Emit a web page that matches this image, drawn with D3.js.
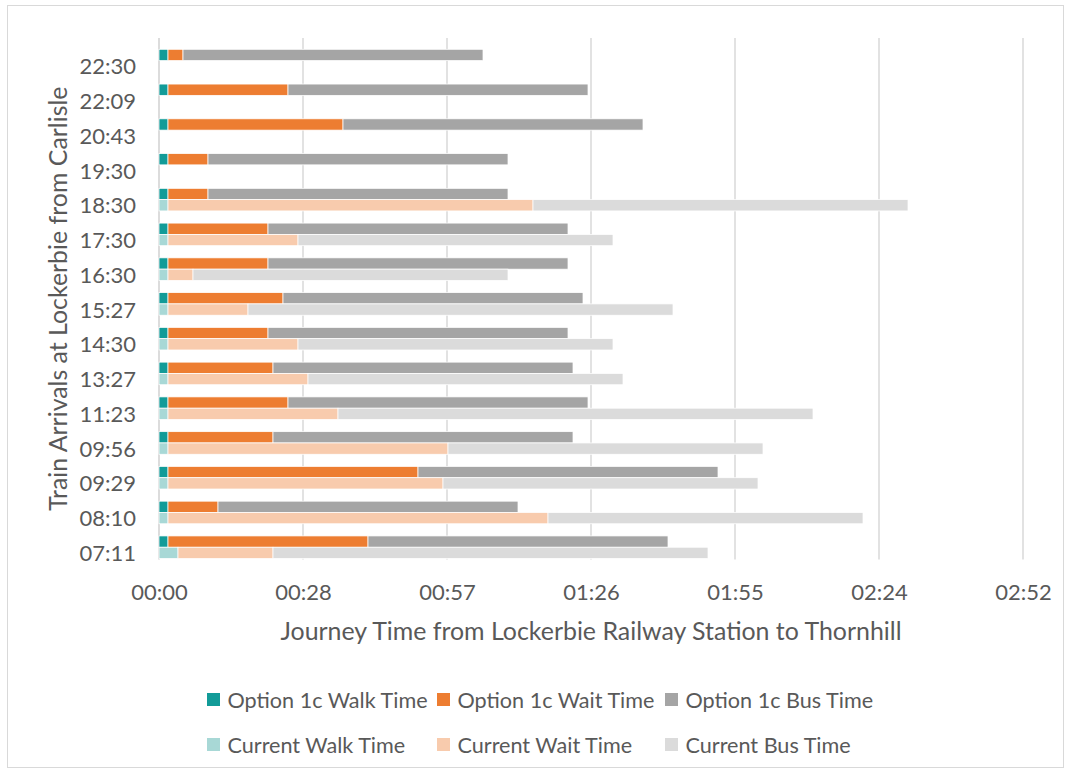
<!DOCTYPE html>
<html>
<head>
<meta charset="utf-8">
<script src="https://cdn.jsdelivr.net/npm/d3@7"></script>
<style>
  html, body { margin: 0; padding: 0; background: #fff; }
  svg { display: block; font-family: Lato, "Open Sans", sans-serif; }
</style>
</head>
<body>
<svg id="chart" width="1071" height="774"></svg>
<script>
// Train arrival times at Lockerbie (earliest first)
const arrivals = ["07:11", "08:10", "09:29", "09:56", "11:23", "13:27", "14:30",
                  "15:27", "16:30", "17:30", "18:30", "19:30", "20:43", "22:09", "22:30"];

// Option 1c journey components, minutes
const optionWalk = [1.8, 1.8, 1.8, 1.8, 1.8, 1.8, 1.8, 1.8, 1.8, 1.8, 1.8, 1.8, 1.8, 1.8, 1.8];
const optionWait = [40, 10, 50, 21, 24, 21, 20, 23, 20, 20, 8, 8, 35, 24, 3];
const optionBus  = [60, 60, 60, 60, 60, 60, 60, 60, 60, 60, 60, 60, 60, 60, 60];

// Current journey components, minutes (no current service after 18:30)
const currentWalk = [3.8, 1.8, 1.8, 1.8, 1.8, 1.8, 1.8, 1.8, 1.8, 1.8, 1.8, null, null, null, null];
const currentWait = [19, 76, 55, 56, 34, 28, 26, 16, 5, 26, 73, null, null, null, null];
const currentBus  = [87, 63, 63, 63, 95, 63, 63, 85, 63, 63, 75, null, null, null, null];

// Axis ticks (minutes) and their time labels
const tickMinutes = [0, 28.8, 57.6, 86.4, 115.2, 144, 172.8];
const tickLabels  = ["00:00", "00:28", "00:57", "01:26", "01:55", "02:24", "02:52"];

const seriesNames = ["Option 1c Walk Time", "Option 1c Wait Time", "Option 1c Bus Time",
                     "Current Walk Time", "Current Wait Time", "Current Bus Time"];
const seriesColors = ["#129b98", "#ed7d31", "#a5a5a5", "#a8d8d6", "#f8cbad", "#dbdbdb"];

const svg = d3.select("#chart");
const textColor = "#595959";

// chart frame
svg.append("rect")
  .attr("x", 7.5).attr("y", 5.5).attr("width", 1056).attr("height", 762)
  .attr("fill", "#fff").attr("stroke", "#d9d9d9").attr("stroke-width", 1);

const plot = { left: 159, right: 1023, top: 38, bottom: 559.4 };

const x = d3.scaleLinear().domain([0, 172.8]).range([plot.left, plot.right]);
// latest arrival at the top
const y = d3.scaleBand().domain(arrivals.slice().reverse())
  .range([plot.top, plot.bottom]).paddingInner(0).paddingOuter(0);
const bw = y.bandwidth();

// vertical gridlines
svg.append("g").selectAll("line").data(tickMinutes.slice(1)).join("line")
  .attr("x1", d => x(d)).attr("x2", d => x(d))
  .attr("y1", plot.top).attr("y2", plot.bottom)
  .attr("stroke", "#d9d9d9").attr("stroke-width", 1.5);

// category axis line
svg.append("line")
  .attr("x1", x(0)).attr("x2", x(0)).attr("y1", plot.top).attr("y2", plot.bottom)
  .attr("stroke", "#d9d9d9").attr("stroke-width", 1.8);

// build stacked segments
function stackRows(walk, wait, bus, offset, keyBase) {
  const rows = [];
  arrivals.forEach((a, i) => {
    if (walk[i] == null) return;
    const parts = [walk[i], wait[i], bus[i]];
    let acc = 0;
    parts.forEach((v, k) => {
      rows.push({ cat: a, x0: acc, x1: acc + v, series: keyBase + k, offset });
      acc += v;
    });
  });
  return rows;
}
const segments = stackRows(optionWalk, optionWait, optionBus, 0.325, 0)
  .concat(stackRows(currentWalk, currentWait, currentBus, 0.65, 3));

svg.append("g").selectAll("rect").data(segments).join("rect")
  .attr("x", d => x(d.x0))
  .attr("width", d => x(d.x1) - x(d.x0))
  .attr("y", d => y(d.cat) + bw * d.offset)
  .attr("height", bw * 0.325)
  .attr("fill", d => seriesColors[d.series])
  .attr("stroke", "#ffffff").attr("stroke-width", 0.75);

// category labels
svg.append("g").selectAll("text").data(arrivals).join("text")
  .attr("x", 136).attr("y", d => y(d) + bw * 0.8)
  .attr("text-anchor", "end").attr("dominant-baseline", "central")
  .attr("fill", textColor).attr("font-size", 22)
  .text(d => d);

// time axis labels
const xAxis = d3.axisBottom(x).tickValues(tickMinutes)
  .tickFormat((d, i) => tickLabels[i]).tickSize(0).tickPadding(0);
const gx = svg.append("g").attr("transform", `translate(0, ${plot.bottom})`).call(xAxis);
gx.select(".domain").remove();
gx.selectAll("text")
  .attr("y", 32).attr("dy", null).attr("dominant-baseline", "central")
  .attr("fill", textColor).attr("font-size", 22)
  .style("font-family", "Lato, 'Open Sans', sans-serif");

// axis titles
svg.append("text")
  .attr("x", (plot.left + plot.right) / 2).attr("y", 630)
  .attr("text-anchor", "middle").attr("dominant-baseline", "central")
  .attr("fill", textColor).attr("font-size", 24.9)
  .text("Journey Time from Lockerbie Railway Station to Thornhill");

svg.append("text")
  .attr("transform", `translate(57, ${(plot.top + plot.bottom) / 2}) rotate(-90)`)
  .attr("text-anchor", "middle").attr("dominant-baseline", "central")
  .attr("fill", textColor).attr("font-size", 24.9)
  .text("Train Arrivals at Lockerbie from Carlisle");

// legend: two rows of three
const legendCols = [207, 437, 665];
const legendRows = [699.5, 744.5];
const legend = svg.append("g").selectAll("g").data(seriesNames).join("g")
  .attr("transform", (d, i) => `translate(${legendCols[i % 3]}, ${legendRows[Math.floor(i / 3)]})`);
legend.append("rect")
  .attr("x", 0).attr("y", -6.5).attr("width", 13).attr("height", 13)
  .attr("fill", (d, i) => seriesColors[i]);
legend.append("text")
  .attr("x", 20.5).attr("y", 0).attr("dominant-baseline", "central")
  .attr("fill", textColor).attr("font-size", 21.6)
  .text(d => d);
</script>
</body>
</html>
